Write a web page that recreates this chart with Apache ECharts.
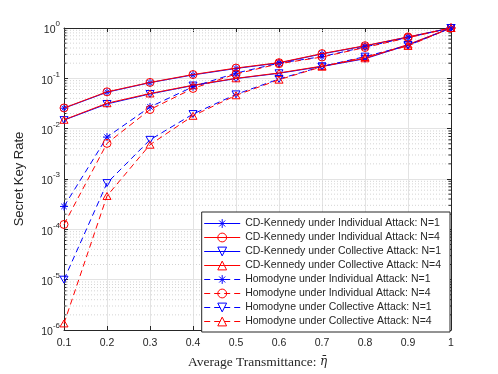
<!DOCTYPE html>
<html>
<head>
<meta charset="utf-8">
<script src="https://cdn.jsdelivr.net/npm/echarts@6/dist/echarts.min.js"></script>
<style>html,body{margin:0;padding:0;background:#fff}#c{width:498px;height:374px}</style>
</head>
<body>
<div id="c"></div>
<script>
// ---- data ----
const eta = [0.1, 0.2, 0.3, 0.4, 0.5, 0.6, 0.7, 0.8, 0.9, 1.0];
const cdIndN1 = [0.0255, 0.053, 0.082, 0.117, 0.157, 0.202, 0.305, 0.44, 0.66, 1.0];
const cdIndN4 = [0.0258, 0.054, 0.083, 0.119, 0.160, 0.205, 0.310, 0.445, 0.665, 1.0];
const cdColN1 = [0.0148, 0.031, 0.049, 0.072, 0.099, 0.126, 0.172, 0.245, 0.46, 1.0];
const cdColN4 = [0.0150, 0.032, 0.050, 0.073, 0.100, 0.128, 0.175, 0.250, 0.47, 1.0];
const homIndN1 = [2.85e-4, 6.8e-3, 0.027, 0.068, 0.127, 0.200, 0.270, 0.42, 0.65, 1.0];
const homIndN4 = [1.25e-4, 5.1e-3, 0.024, 0.063, 0.122, 0.195, 0.265, 0.41, 0.64, 1.0];
const homColN1 = [1.0e-5, 8.3e-4, 6.0e-3, 0.0195, 0.048, 0.097, 0.172, 0.270, 0.45, 1.0];
const homColN4 = [1.35e-6, 4.6e-4, 4.8e-3, 0.018, 0.046, 0.094, 0.170, 0.265, 0.44, 1.0];
const seriesNames = [
  'CD-Kennedy under Individual Attack: N=1',
  'CD-Kennedy under Individual Attack: N=4',
  'CD-Kennedy under Collective Attack: N=1',
  'CD-Kennedy under Collective Attack: N=4',
  'Homodyne under Individual Attack: N=1',
  'Homodyne under Individual Attack: N=4',
  'Homodyne under Collective Attack: N=1',
  'Homodyne under Collective Attack: N=4'
];
const xTicks = ['0.1','0.2','0.3','0.4','0.5','0.6','0.7','0.8','0.9','1'];
const yDecades = [-6, -5, -4, -3, -2, -1, 0];
// minor grid values (2..9 x each decade)
const minorVals = [];
for (let d = -6; d < 0; d++) for (let m = 2; m <= 9; m++) minorVals.push(m * Math.pow(10, d));

const BLUE = '#0000ff', RED = '#ff0000', AX = '#262626';
const SANS = 'Liberation Sans, Arial, Helvetica, sans-serif';
const SERIF = 'Liberation Serif, Times New Roman, serif';

const SYM_STAR = 'path://M5 0L5 10M0 5L10 5M1.6 1.6L8.4 8.4M8.4 1.6L1.6 8.4';
const SYM_DOWN = 'path://M0 0L10 0L5 8.66Z';
const SYM_UP = 'path://M5 0L10 8.66L0 8.66Z';
const DASH = [6, 4];

const specs = [
  [cdIndN1, BLUE, SYM_STAR, 'solid'],
  [cdIndN4, RED, 'circle', 'solid'],
  [cdColN1, BLUE, SYM_DOWN, 'solid'],
  [cdColN4, RED, SYM_UP, 'solid'],
  [homIndN1, BLUE, SYM_STAR, DASH],
  [homIndN4, RED, 'circle', DASH],
  [homColN1, BLUE, SYM_DOWN, DASH],
  [homColN4, RED, SYM_UP, DASH]
];

const lineSeries = specs.map((s, i) => ({
  name: seriesNames[i],
  type: 'line',
  xAxisIndex: 0, yAxisIndex: 0,
  data: eta.map((x, j) => [x, s[0][j]]),
  symbol: s[2],
  symbolSize: 8,
  symbolKeepAspect: true,
  showAllSymbol: true,
  lineStyle: { color: s[1], width: 1, type: s[3] },
  itemStyle: { color: 'rgba(0,0,0,0)', borderColor: s[1], borderWidth: 1 },
  emphasis: { disabled: true },
  animation: false,
  z: 3 + i
}));

const legendData = specs.map((s, i) => ({
  name: seriesNames[i],
  lineStyle: { color: s[1], width: 1, type: s[3] },
  itemStyle: { color: 'rgba(0,0,0,0)', borderColor: s[1], borderWidth: 1 }
}));

const minorSeries = {
  type: 'custom',
  xAxisIndex: 0, yAxisIndex: 0,
  data: minorVals.map(v => [0.1, v]),
  silent: true,
  animation: false,
  z: 1,
  renderItem: function (params, api) {
    const cs = params.coordSys;
    const y = api.coord([0.1, api.value(1)])[1];
    return {
      type: 'group',
      children: [
        { type: 'line', shape: { x1: cs.x, y1: y, x2: cs.x + cs.width, y2: y },
          style: { stroke: '#d4d4d4', lineWidth: 1, lineDash: [1, 2] } },
        { type: 'line', shape: { x1: cs.x, y1: y, x2: cs.x + 2.5, y2: y },
          style: { stroke: AX, lineWidth: 1 } },
        { type: 'line', shape: { x1: cs.x + cs.width - 2.5, y1: y, x2: cs.x + cs.width, y2: y },
          style: { stroke: AX, lineWidth: 1 } }
      ]
    };
  }
};

const chart = echarts.init(document.getElementById('c'), null, { renderer: 'canvas' });
const xCommon = {
  type: 'value', min: 0.1, max: 1, interval: 0.1,
  axisLine: { show: true, onZero: false, lineStyle: { color: AX, width: 1 } },
  axisTick: { show: true, inside: true, length: 4, lineStyle: { color: AX } }
};
const yCommon = {
  type: 'log', logBase: 10, min: 1e-6, max: 1, splitNumber: 6,
  axisLine: { show: true, onZero: false, lineStyle: { color: AX, width: 1 } },
  axisTick: { show: true, inside: true, length: 4, lineStyle: { color: AX } },
  minorTick: { show: false }
};
chart.setOption({
  backgroundColor: '#ffffff',
  animation: false,
  grid: { left: 64, right: 47, top: 28, bottom: 44, containLabel: false },
  xAxis: [
    Object.assign({}, xCommon, {
      position: 'bottom',
      name: '{a|Average Transmittance: }{e|η̄}',
      nameLocation: 'middle', nameGap: 25,
      nameTextStyle: {
        rich: {
          a: { fontFamily: SERIF, fontSize: 13.5, color: AX },
          e: { fontFamily: 'DejaVu Serif, serif', fontSize: 12, fontStyle: 'italic', color: AX }
        }
      },
      axisLabel: {
        margin: 8, color: AX, fontFamily: SANS, fontSize: 10.5,
        formatter: function (v) { const i = Math.round(v * 10) - 1; return xTicks[i] !== undefined ? xTicks[i] : ''; }
      },
      splitLine: { show: true, lineStyle: { color: '#e3e3e3', width: 1 } }
    }),
    Object.assign({}, xCommon, {
      position: 'top', axisLabel: { show: false }, splitLine: { show: false }
    })
  ],
  yAxis: [
    Object.assign({}, yCommon, {
      position: 'left',
      name: 'Secret Key Rate',
      nameLocation: 'middle', nameGap: 38,
      nameTextStyle: { fontFamily: SANS, fontSize: 13, color: AX },
      axisLabel: {
        margin: 4, color: AX,
        formatter: function (v) {
          const e = Math.round(Math.log10(v));
          if (yDecades.indexOf(e) < 0) return '';
          return '{b|10}{s|' + e + '}';
        },
        rich: {
          b: { fontFamily: SANS, fontSize: 10.5, color: AX, lineHeight: 16, verticalAlign: 'bottom' },
          s: { fontFamily: SANS, fontSize: 8, color: AX, verticalAlign: 'top', lineHeight: 9 }
        }
      },
      splitLine: { show: true, lineStyle: { color: '#e3e3e3', width: 1 } }
    }),
    Object.assign({}, yCommon, {
      position: 'right', axisLabel: { show: false }, splitLine: { show: false }
    })
  ],
  legend: {
    data: legendData,
    orient: 'vertical',
    right: 48, bottom: 42,
    itemWidth: 36, itemHeight: 11, itemGap: 3,
    padding: [6, 9, 5, 2],
    borderColor: AX, borderWidth: 1, backgroundColor: '#ffffff',
    textStyle: { fontFamily: SANS, fontSize: 10.5, color: AX },
    selectedMode: false
  },
  series: [minorSeries].concat(lineSeries)
});
</script>
</body>
</html>
